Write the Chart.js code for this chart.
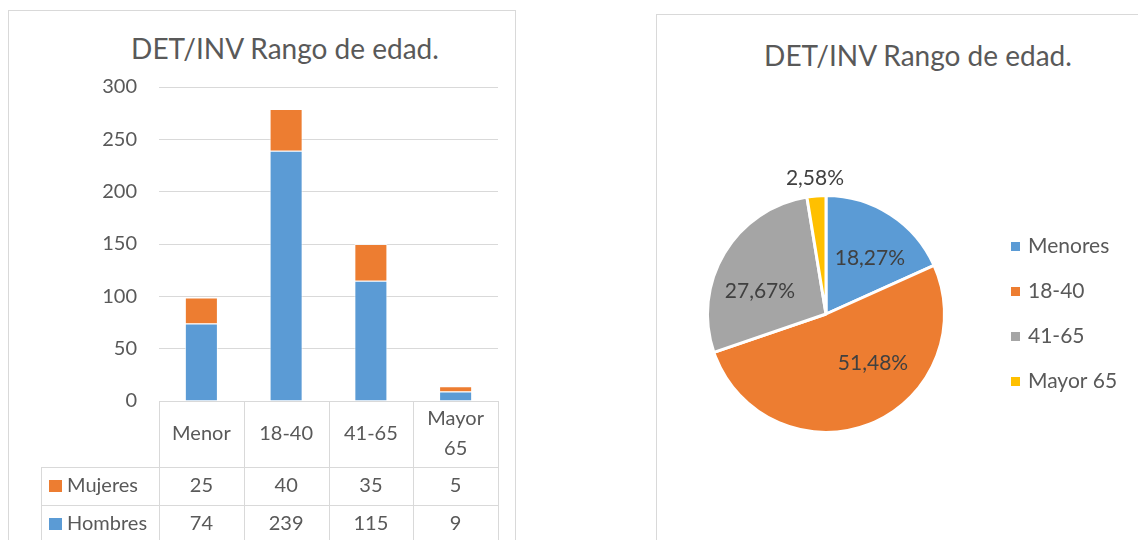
<!DOCTYPE html>
<html>
<head>
<meta charset="utf-8">
<script src="https://cdn.jsdelivr.net/npm/chart.js@4.4.0/dist/chart.umd.min.js"></script>
<style>
  html, body { margin: 0; padding: 0; background: #fff; overflow: hidden; }
  body { width: 1138px; height: 540px; position: relative; font-family: Lato, "Open Sans", sans-serif; }
  .marco { position: absolute; border: 1px solid #d9d9d9; background: #fff; }
  #marcoBarras { left: 8px; top: 10px; width: 506px; height: 600px; }
  #marcoTorta { left: 656px; top: 14px; width: 520px; height: 600px; }
  .titulo { position: absolute; color: #595959; font-size: 28px; line-height: 34px; white-space: nowrap; transform: translateX(-50%); }
  canvas { position: absolute; left: 0; top: 0; }
</style>
</head>
<body>
<div class="marco" id="marcoBarras">
  <div class="titulo" style="left:276px; top:20px;">DET/INV Rango de edad.</div>
  <canvas id="barras" width="506" height="529"></canvas>
</div>
<div class="marco" id="marcoTorta">
  <div class="titulo" style="left:261px; top:23px;">DET/INV Rango de edad.</div>
  <canvas id="torta" width="481" height="525"></canvas>
</div>
<script>
// datos
const CATEGORIAS = ["Menor", "18-40", "41-65", "Mayor 65"];
const HOMBRES = [74, 239, 115, 9];
const MUJERES = [25, 40, 35, 5];
const TICKS_Y = [0, 50, 100, 150, 200, 250, 300];
const ETIQUETAS_TORTA = ["Menores", "18-40", "41-65", "Mayor 65"];
const PORCENTAJES = [18.27, 51.48, 27.67, 2.58];

const AZUL = "#5b9bd5";
const NARANJA = "#ed7d31";
const GRIS = "#a5a5a5";
const AMARILLO = "#ffc000";
const TEXTO = "#595959";
const LINEA = "#d9d9d9";
const FUENTE = "Lato, 'Open Sans', sans-serif";

// tabla de datos debajo del eje x (encabezado con las categorias + filas)
const tablaDatos = {
    id: "tablaDatos",
    afterDraw(chart) {
        const ctx = chart.ctx;
        const area = chart.chartArea;
        const etiquetas = chart.data.labels;
        const n = etiquetas.length;
        const ancho = area.width / n;
        const altoEnc = 66, altoFila = 38, colEtiqueta = 118;
        const yEnc = area.bottom + altoEnc;
        const izq = area.left - colEtiqueta;
        const fondo = chart.height;
        const filas = [
            { nombre: "Mujeres", valores: MUJERES, color: NARANJA },
            { nombre: "Hombres", valores: HOMBRES, color: AZUL }
        ];
        ctx.save();
        ctx.strokeStyle = LINEA;
        ctx.lineWidth = 1;
        ctx.beginPath();
        for (let i = 0; i <= n; i++) {
            const x = Math.round(area.left + i * ancho) + 0.5;
            ctx.moveTo(x, area.bottom);
            ctx.lineTo(x, fondo);
        }
        ctx.moveTo(izq + 0.5, yEnc);
        ctx.lineTo(izq + 0.5, fondo);
        for (let f = 0; f < filas.length; f++) {
            const y = Math.round(yEnc + f * altoFila) + 0.5;
            ctx.moveTo(izq, y);
            ctx.lineTo(area.right, y);
        }
        ctx.stroke();

        ctx.font = "20px " + FUENTE;
        ctx.textBaseline = "middle";
        ctx.fillStyle = TEXTO;
        ctx.textAlign = "center";
        // encabezado: categorias, partidas en dos lineas si llevan espacio
        etiquetas.forEach(function (et, i) {
            const lineas = et.split(" ");
            const xc = area.left + (i + 0.5) * ancho;
            const yc = area.bottom + altoEnc / 2;
            lineas.forEach(function (l, k) {
                ctx.fillText(l, xc, yc + (k - (lineas.length - 1) / 2) * 30);
            });
        });

        filas.forEach(function (fila, f) {
            const yc = yEnc + f * altoFila + altoFila / 2;
            ctx.fillStyle = fila.color;
            ctx.fillRect(izq + 8, yc - 6, 13, 12);
            ctx.fillStyle = TEXTO;
            ctx.textAlign = "left";
            ctx.fillText(fila.nombre, izq + 26, yc);
            ctx.textAlign = "center";
            fila.valores.forEach(function (v, i) {
                ctx.fillText(String(v), area.left + (i + 0.5) * ancho, yc);
            });
        });
        ctx.restore();
    }
};

new Chart(document.getElementById("barras"), {
    type: "bar",
    data: {
        labels: CATEGORIAS,
        datasets: [
            { label: "Hombres", data: HOMBRES, backgroundColor: AZUL },
            { label: "Mujeres", data: MUJERES, backgroundColor: NARANJA }
        ]
    },
    options: {
        responsive: false,
        animation: false,
        layout: { padding: { top: 76, right: 17, left: 0, bottom: 0 } },
        datasets: {
            bar: {
                categoryPercentage: 1,
                barPercentage: 0.39,
                borderColor: "rgba(255,255,255,0.7)",
                borderWidth: 1
            }
        },
        plugins: {
            legend: { display: false },
            tooltip: { enabled: false },
            title: { display: false }
        },
        scales: {
            x: {
                stacked: true,
                grid: { display: false, drawTicks: false },
                border: { display: false },
                ticks: { display: false },
                afterFit: function (s) { s.height = 139; }
            },
            y: {
                stacked: true,
                min: 0,
                max: 300,
                afterBuildTicks: function (s) { s.ticks = TICKS_Y.map(v => ({ value: v })); },
                grid: { color: LINEA, drawTicks: false },
                border: { display: false },
                ticks: {
                    color: TEXTO,
                    padding: 22,
                    font: { family: FUENTE, size: 20 }
                },
                afterFit: function (s) { s.width = 150; }
            }
        }
    },
    plugins: [tablaDatos]
});

// porcentajes sobre la torta; los de menos de 5% van por fuera
const AJUSTE_X = [4, 20, -3, 0];
const AJUSTE_Y = [6, -19, 15, 0];
const etiquetasTorta = {
    id: "etiquetasTorta",
    afterDatasetsDraw(chart) {
        const ctx = chart.ctx;
        const arcos = chart.getDatasetMeta(0).data;
        const valores = chart.data.datasets[0].data;
        ctx.save();
        ctx.font = "21px " + FUENTE;
        ctx.fillStyle = "#404040";
        ctx.textAlign = "center";
        ctx.textBaseline = "middle";
        arcos.forEach(function (arco, i) {
            const p = arco.getProps(["x", "y", "startAngle", "endAngle", "outerRadius"], true);
            const medio = (p.startAngle + p.endAngle) / 2;
            const r = valores[i] < 5 ? p.outerRadius * 1.15 : p.outerRadius * 0.62;
            const texto = valores[i].toFixed(2).replace(".", ",") + "%";
            ctx.fillText(texto, p.x + Math.cos(medio) * r + AJUSTE_X[i], p.y + Math.sin(medio) * r + AJUSTE_Y[i]);
        });
        ctx.restore();
    }
};

// leyenda a la derecha
const leyendaTorta = {
    id: "leyendaTorta",
    afterDraw(chart) {
        const ctx = chart.ctx;
        const area = chart.chartArea;
        const colores = chart.data.datasets[0].backgroundColor;
        const etiquetas = chart.data.labels;
        const paso = 45;
        const y0 = (area.top + area.bottom) / 2 - paso * (etiquetas.length - 1) / 2;
        const x0 = area.right + 65;
        ctx.save();
        ctx.font = "21px " + FUENTE;
        ctx.textAlign = "left";
        ctx.textBaseline = "middle";
        etiquetas.forEach(function (et, i) {
            const y = y0 + i * paso;
            ctx.fillStyle = colores[i];
            ctx.fillRect(x0, y - 4.5, 9, 9);
            ctx.fillStyle = TEXTO;
            ctx.fillText(et, x0 + 17, y);
        });
        ctx.restore();
    }
};

new Chart(document.getElementById("torta"), {
    type: "pie",
    data: {
        labels: ETIQUETAS_TORTA,
        datasets: [{
            data: PORCENTAJES,
            backgroundColor: [AZUL, NARANJA, GRIS, AMARILLO],
            borderColor: "#ffffff",
            borderWidth: 3,
            hoverOffset: 0
        }]
    },
    options: {
        responsive: false,
        animation: false,
        layout: { padding: { left: 49, top: 179, right: 192, bottom: 106 } },
        plugins: {
            legend: { display: false },
            tooltip: { enabled: false }
        }
    },
    plugins: [etiquetasTorta, leyendaTorta]
});
</script>
</body>
</html>
